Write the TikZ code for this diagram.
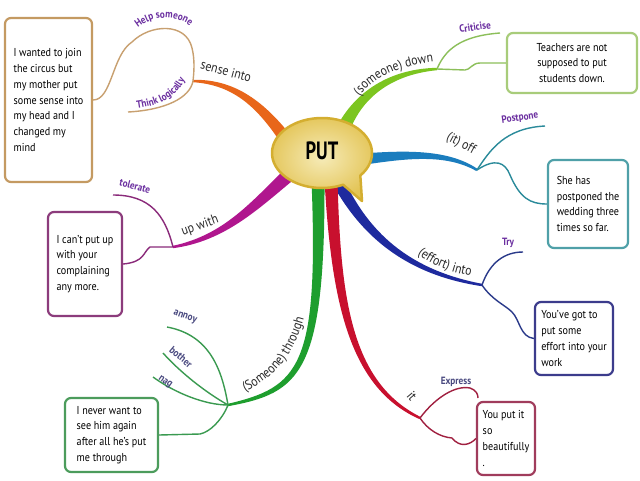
\documentclass[tikz,border=0pt]{standalone}
\usepackage{fontspec}
\setmainfont{PT Sans}[FakeStretch=0.88]
\newfontfamily\putfont{PT Sans}[FakeStretch=0.74]
\usetikzlibrary{calc,decorations.text}
\definecolor{cOrange}{HTML}{E8661A}
\definecolor{cGreenT}{HTML}{7CC520}
\definecolor{cBlue}{HTML}{1B7DBE}
\definecolor{cNavy}{HTML}{1E2A9E}
\definecolor{cRed}{HTML}{C8102E}
\definecolor{cGreenB}{HTML}{1E9E2E}
\definecolor{cMag}{HTML}{B0168E}
\definecolor{tTan}{HTML}{C8A070}
\definecolor{tLGreen}{HTML}{8CBF5A}
\definecolor{tTeal}{HTML}{2A8A9A}
\definecolor{tNavy}{HTML}{2A3A8A}
\definecolor{tMaroon}{HTML}{A02040}
\definecolor{tGreen}{HTML}{3A9A50}
\definecolor{tPurple}{HTML}{8A2A7A}
\definecolor{bTan}{HTML}{C49A62}
\definecolor{bLGreen}{HTML}{A8CC7A}
\definecolor{bTeal}{HTML}{4FA0A8}
\definecolor{bNavy}{HTML}{3C3C8C}
\definecolor{bMaroon}{HTML}{A03C5C}
\definecolor{bGreen}{HTML}{4C9C5C}
\definecolor{bPurple}{HTML}{8C3C7C}
\definecolor{lPurple}{HTML}{6B2FA0}
\definecolor{lSlate}{HTML}{4A4A80}
\definecolor{lText}{HTML}{2A2A2A}
\definecolor{gold}{HTML}{D4AE30}
\definecolor{bubIn}{HTML}{F6EBB8}
\definecolor{bubOut}{HTML}{E3C455}
\newcommand\boxfont{\fontsize{11.5}{15.8}\selectfont}
\newcommand\brfont{\fontsize{13.5}{14}\selectfont}
\newcommand\labfont{\fontsize{10.5}{11}\selectfont\bfseries}
\newcommand\tbranch[6]{%
 \pgfmathsetlengthmacro\wA{#6}\pgfmathsetlengthmacro\wC{0.72*#6}\pgfmathsetlengthmacro\wD{0.45*#6}%
 \coordinate (tA) at #2; \coordinate (tC) at #3; \coordinate (tD) at #4; \coordinate (tB) at #5;
 \fill[#1] ($(tA)!\wA!90:(tC)$) .. controls ($(tC)!\wC!90:(tD)$) and ($(tD)!\wD!90:(tB)$) .. ($(tB)!1.2pt!-90:(tD)$)
   -- ($(tB)!1.2pt!90:(tD)$) .. controls ($(tD)!\wD!-90:(tB)$) and ($(tC)!\wC!-90:(tD)$) .. ($(tA)!\wA!-90:(tC)$) -- cycle;}
\tikzset{
 infobox/.style={draw=#1, line width=2.2pt, rounded corners=6pt, fill=white, font=\boxfont, align=left, text=black, inner sep=0pt},
 thinline/.style={draw=#1, line width=1.4pt},
 brlabel/.style={font=\brfont, text=lText, inner sep=0pt},
 sublabel/.style={font=\labfont, text=#1, inner sep=0pt},
}
\begin{document}
\begin{tikzpicture}[x=1pt,y=-1pt]
\useasboundingbox (0,0) rectangle (640,480);
\fill[white] (0,0) rectangle (640,480);

% thick branches
\tbranch{cOrange}{(290,145)}{(262,105)}{(235,82)}{(193,81)}{6.5pt}
\tbranch{cGreenT}{(342,132)}{(355,100)}{(385,72)}{(437,69)}{7pt}
\tbranch{cBlue}{(355,160)}{(400,155)}{(445,150)}{(477,170)}{6pt}
\tbranch{cNavy}{(340,185)}{(365,232)}{(405,272)}{(482,285)}{6pt}
\tbranch{cRed}{(331,180)}{(336,300)}{(350,385)}{(420,418)}{6.5pt}
\tbranch{cGreenB}{(318,180)}{(322,370)}{(300,390)}{(228,405)}{6.5pt}
\tbranch{cMag}{(292,172)}{(255,205)}{(225,238)}{(173,247)}{7pt}

% junctions
\coordinate (jS) at (193,81);
\coordinate (jD) at (437,69);
\coordinate (jO) at (477,170);
\coordinate (jI) at (482,285);
\coordinate (jT) at (420,418);
\coordinate (jR) at (228,405);
\coordinate (jU) at (173,247);

% boxes
\node[infobox=bTan, minimum width=87pt, minimum height=164pt] (box1) at (48.5,100)
 {I wanted to join\\the circus but\\my mother put\\some sense into\\my head and I\\changed my\\mind};
\node[infobox=bLGreen, minimum width=130pt, minimum height=60pt, align=center] (box2) at (572,63)
 {Teachers are not\\supposed to put\\students down.};
\node[infobox=bTeal, minimum width=80pt, minimum height=88pt] (box3) at (588,204)
 {She has\\postponed the\\wedding three\\times so far.};
\node[infobox=bNavy, minimum width=78pt, minimum height=73pt] (box4) at (574,338.5)
 {You’ve got to\\put some\\effort into your\\work};
\node[infobox=bMaroon, minimum width=58pt, minimum height=73pt] (box5) at (506,438.5)
 {You put it\\so\\beautifully\\.};
\node[infobox=bGreen, minimum width=93pt, minimum height=74pt] (box6) at (111.5,435)
 {I never want to\\see him again\\after all he’s put\\me through};
\node[infobox=bPurple, minimum width=74pt, minimum height=104pt] (box7) at (85,264)
 {I can’t put up\\with your\\complaining\\any more.};

% thin lines: sense into
\coordinate (eTL) at (128,112);
\draw[thinline=tTan] (box1.east) .. controls (112,100) and (112,55) .. (132,42)
  .. controls (150,24) and (186,22) .. (192,48) .. controls (195,60) and (194,72) .. (jS);
\draw[thinline=tTan] (jS) .. controls (190,98) and (165,110) .. (eTL);
% down
\coordinate (eCr) at (500,33);
\draw[thinline=tLGreen] (jD) .. controls (445,50) and (460,36) .. (eCr);
\draw[thinline=tLGreen] (jD) -- (465,70) .. controls (470,70) and (472,63) .. (480,63) -- (box2.west);
% off
\coordinate (ePo) at (545,126);
\draw[thinline=tTeal] (jO) .. controls (490,150) and (505,128) .. (ePo);
\draw[thinline=tTeal] (jO) .. controls (495,158) and (505,162) .. (510,175) .. controls (520,198) and (530,204) .. (box3.west);
% into
\coordinate (eTr) at (523,252);
\draw[thinline=tNavy] (jI) .. controls (490,262) and (505,252) .. (eTr);
\draw[thinline=tNavy] (jI) .. controls (492,300) and (505,305) .. (512,312) .. controls (520,320) and (520,337) .. (box4.west);
% it
\coordinate (eEx) at (478,398);
\draw[thinline=tMaroon] (jT) .. controls (435,398) and (455,385) .. (470,388) .. controls (476,390) and (478,394) .. (eEx);
\draw[thinline=tMaroon] (jT) .. controls (428,430) and (440,437) .. (452,438) .. controls (460,448) and (470,445) .. (box5.west);
% through
\coordinate (eAn) at (167,327);
\coordinate (eBo) at (163,353);
\coordinate (eNa) at (153,377);
\draw[thinline=tGreen] (jR) .. controls (222,370) and (210,335) .. (eAn);
\draw[thinline=tGreen] (jR) .. controls (205,392) and (180,372) .. (eBo);
\draw[thinline=tGreen] (jR) .. controls (205,405) and (175,393) .. (eNa);
\draw[thinline=tGreen] (jR) .. controls (222,420) and (210,432) .. (200,434) -- (box6.east);
% up with
\coordinate (eTo) at (113,195);
\draw[thinline=tPurple] (jU) .. controls (165,215) and (150,195) .. (eTo);
\draw[thinline=tPurple] (jU) -- (150,247) .. controls (143,252) and (145,262) .. (box7.east);

% bubble
\coordinate (bc) at (322,153);
\shade[draw=gold, line width=2.5pt, line join=round, inner color=bubIn, outer color=bubOut]
  ($(bc)+(-40:50pt and 35pt)$) arc[start angle=-40, end angle=295, x radius=50pt, y radius=35pt] -- (362,201) -- cycle;
\node[font=\putfont\bfseries\fontsize{25}{25}\selectfont, text=black] (put) at (322,151) {PUT};

% branch labels
\node[brlabel, rotate=-15] (lSense) at (226,71) {sense into};
\path[decorate, decoration={text along path, text align=center, text color=lText,
  text={|\brfont|(someone) down}}] (349,115) .. controls (362,85) and (385,64) .. (455,60);
\node[brlabel, rotate=-28] (lOff) at (461,144) {(it) off};
\path[decorate, decoration={text along path, text align=center, text color=lText,
  text={|\brfont|(effort) into}}] (398,238) .. controls (425,262) and (445,275) .. (496,279);
\node[brlabel, rotate=-50] (lIt) at (412,396) {it};
\path[decorate, decoration={text along path, text align=center, text color=lText,
  text={|\brfont|(Someone) through}}] (220,401) .. controls (265,388) and (300,362) .. (309,292);
\node[brlabel, rotate=20] (lUp) at (200,226) {up with};

% sub labels
\path[decorate, decoration={text along path, text align=center, text color=lPurple,
  text={|\labfont|Help someone}}] (126,42) .. controls (143,12) and (184,8) .. (202,40);
\path[decorate, decoration={text along path, text align=center, text color=lPurple,
  text={|\labfont|Think logically}}] (120,110) .. controls (160,108) and (182,98) .. (191,64);
\node[sublabel=lPurple, rotate=8] (lCr) at (475,27) {Criticise};
\node[sublabel=lPurple, rotate=8] (lPo) at (520,118) {Postpone};
\node[sublabel=lPurple] (lTr) at (508,243) {Try};
\node[sublabel=lSlate] (lEx) at (456,382) {Express};
\node[sublabel=lPurple, rotate=-15] (lTo) at (135,186) {tolerate};
\node[sublabel=lSlate, rotate=-20] (lAn) at (185,317) {annoy};
\node[sublabel=lSlate, rotate=-40] (lBo) at (181,357) {bother};
\node[sublabel=lSlate, rotate=-35] (lNa) at (165,382) {nag};
\end{tikzpicture}
\end{document}
